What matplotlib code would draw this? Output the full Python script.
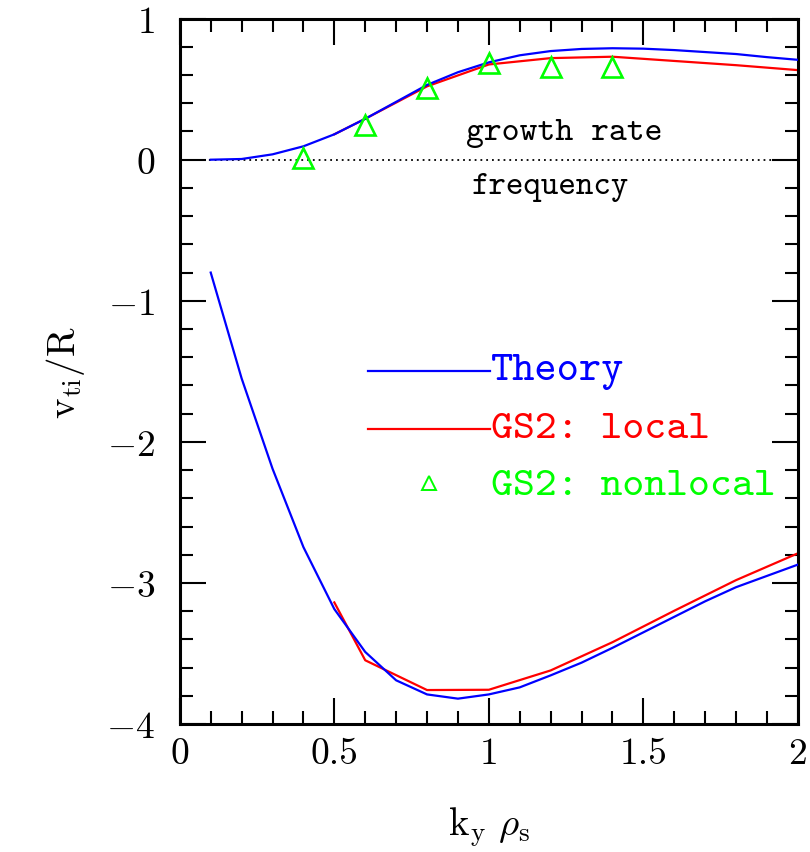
import matplotlib
matplotlib.use("Agg")
import matplotlib.pyplot as plt
from matplotlib.ticker import MultipleLocator

plt.rcParams['mathtext.fontset'] = 'cm'
plt.rcParams['font.family'] = ['cmr10', 'DejaVu Serif']
plt.rcParams['axes.unicode_minus'] = False

# Theory (blue)
ky_theory = [0.1, 0.2, 0.3, 0.4, 0.5, 0.6, 0.7, 0.8, 0.9, 1.0,
             1.1, 1.2, 1.3, 1.4, 1.5, 1.6, 1.7, 1.8, 1.9, 2.0]
gamma_theory = [0.0, 0.005, 0.038, 0.095, 0.18, 0.29, 0.41, 0.53, 0.62, 0.69,
                0.74, 0.77, 0.785, 0.79, 0.787, 0.777, 0.763, 0.749, 0.727, 0.708]
omega_theory = [-0.80, -1.55, -2.19, -2.746, -3.185, -3.489, -3.69, -3.79, -3.82, -3.79,
                -3.74, -3.655, -3.565, -3.46, -3.35, -3.24, -3.13, -3.03, -2.95, -2.87]

# GS2 local (red)
ky_local = [0.5, 0.6, 0.8, 1.0, 1.2, 1.4, 1.6, 1.8, 2.0]
gamma_local = [0.18, 0.29, 0.52, 0.675, 0.72, 0.73, 0.70, 0.67, 0.635]
omega_local = [-3.138, -3.548, -3.759, -3.757, -3.62, -3.42, -3.197, -2.98, -2.79]

# GS2 nonlocal (green triangles)
ky_nonlocal = [0.4, 0.6, 0.8, 1.0, 1.2, 1.4]
gamma_nonlocal = [0.01, 0.249, 0.507, 0.687, 0.656, 0.656]

xticks = [0, 0.5, 1, 1.5, 2]
xticklabels = ['0', '0.5', '1', '1.5', '2']
yticks = [-4, -3, -2, -1, 0, 1]
yticklabels = ['$-4$', '$-3$', '$-2$', '$-1$', '$0$', '$1$']

fig = plt.figure(figsize=(8.10, 8.53), dpi=100)
ax = fig.add_axes([0.222, 0.150, 0.763, 0.827])

blue = (0, 0, 1)
red = (1, 0, 0)
green = (0, 1, 0)

ax.axhline(0, color='black', linestyle=(0, (1, 2.2)), linewidth=1.3, zorder=1)
ax.plot(ky_theory, gamma_theory, color=blue, lw=1.6, zorder=3)
ax.plot(ky_theory, omega_theory, color=blue, lw=1.6, zorder=3)
ax.plot(ky_local, gamma_local, color=red, lw=1.6, zorder=2)
ax.plot(ky_local, omega_local, color=red, lw=1.6, zorder=2)
ax.plot(ky_nonlocal, gamma_nonlocal, linestyle='none', marker='^', ms=14,
        mfc='none', mec=green, mew=1.9, zorder=4)

ax.set_xlim(0, 2)
ax.set_ylim(-4, 1)
ax.set_xticks(xticks)
ax.set_xticklabels(xticklabels)
ax.set_yticks(yticks)
ax.set_yticklabels(yticklabels)
ax.xaxis.set_minor_locator(MultipleLocator(0.1))
ax.yaxis.set_minor_locator(MultipleLocator(0.2))
ax.tick_params(which='both', direction='in', top=True, right=True, width=1.5)
ax.tick_params(which='major', length=18.5)
ax.tick_params(which='minor', length=9.5)
ax.tick_params(axis='x', which='major', pad=9, labelsize=27)
ax.tick_params(axis='y', which='major', pad=18, labelsize=27)
for s in ax.spines.values():
    s.set_linewidth(2.2)

ax.set_xlabel(r'$\mathrm{k_y}\ \rho_\mathrm{s}$', fontsize=28, labelpad=25)
ax.set_ylabel(r'$\mathrm{v_{ti}/R}$', fontsize=28, labelpad=14)

tt = ['cmtt10', 'DejaVu Sans Mono']
ax.text(1.245, 0.195, 'growth rate', ha='center', va='center', fontsize=24.5, family=tt)
ax.text(1.20, -0.19, 'frequency', ha='center', va='center', fontsize=24, family=tt)

# legend drawn manually
ax.plot([0.608, 1.003], [-1.5, -1.5], color=blue, lw=1.6)
ax.plot([0.608, 1.003], [-1.91, -1.91], color=red, lw=1.6)
ax.plot([0.805], [-2.29], marker='^', ms=10, mfc='none', mec=green, mew=1.4)
ax.text(1.008, -1.5, 'Theory', color=blue, fontsize=30.5, va='center', ha='left', family=tt)
ax.text(1.008, -1.91, 'GS2: local', color=red, fontsize=30, va='center', ha='left', family=tt)
ax.text(1.008, -2.31, 'GS2: nonlocal', color=green, fontsize=30, va='center', ha='left', family=tt)

fig.savefig('out.png', dpi=100)
